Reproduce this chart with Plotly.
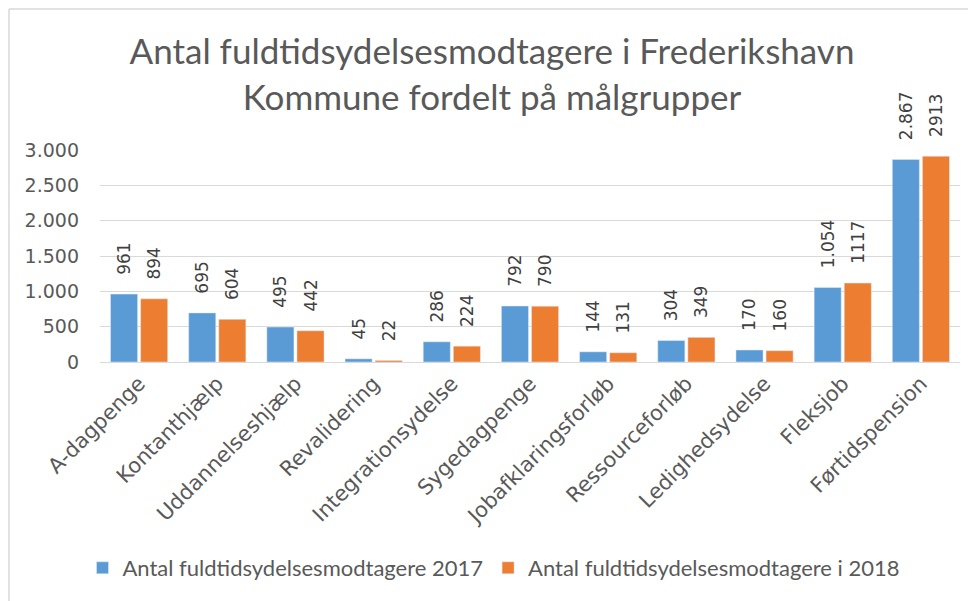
import plotly.graph_objects as go

categories = [
    "A-dagpenge", "Kontanthjælp", "Uddannelseshjælp", "Revalidering",
    "Integrationsydelse", "Sygedagpenge", "Jobafklaringsforløb",
    "Ressourceforløb", "Ledighedsydelse", "Fleksjob", "Førtidspension",
]
values_2017 = [961, 695, 495, 45, 286, 792, 144, 304, 170, 1054, 2867]
values_2018 = [894, 604, 442, 22, 224, 790, 131, 349, 160, 1117, 2913]
labels_2017 = ["961", "695", "495", "45", "286", "792", "144", "304", "170", "1.054", "2.867"]
labels_2018 = ["894", "604", "442", "22", "224", "790", "131", "349", "160", "1117", "2913"]
y_ticks = [0, 500, 1000, 1500, 2000, 2500, 3000]
y_ticktext = ["0", "500", "1.000", "1.500", "2.000", "2.500", "3.000"]

grey = "#595959"
font = "DejaVu Sans, sans-serif"
pad = "\u00a0\u00a0\u00a0"  # gap between bar top and rotated label

fig = go.Figure()

fig.add_trace(go.Bar(
    x=categories,
    y=values_2017,
    name="Antal fuldtidsydelsesmodtagere 2017",
    marker={"color": "#5B9BD5"},
    text=[pad + t for t in labels_2017],
    textposition="outside",
    textangle=-90,
    constraintext="none",
    textfont={"size": 17, "color": "#404040"},
    cliponaxis=False,
))

fig.add_trace(go.Bar(
    x=categories,
    y=values_2018,
    name="Antal fuldtidsydelsesmodtagere i 2018",
    marker={"color": "#ED7D31"},
    text=[pad + t for t in labels_2018],
    textposition="outside",
    textangle=-90,
    constraintext="none",
    textfont={"size": 17, "color": "#404040"},
    cliponaxis=False,
))

# the page puts the figure 8px in from the top-left corner
W, H = 968, 593
L, R, T, B = 92, 16, 142, 239
pw, ph = W - L - R, H - T - B

fig.update_layout(
    width=W,
    height=H,
    paper_bgcolor="white",
    plot_bgcolor="white",
    font={"family": font, "color": grey},
    title={
        "text": "Antal fuldtidsydelsesmodtagere i Frederikshavn<br>Kommune fordelt på målgrupper",
        "x": 0.5,
        "xanchor": "center",
        "y": 1 - 56 / H,
        "yanchor": "middle",
        "font": {"size": 35, "color": grey, "family": "Lato, Open Sans, sans-serif"},
    },
    margin={"l": L, "r": R, "t": T, "b": B, "autoexpand": False},
    barmode="group",
    bargap=0.23,
    bargroupgap=0.1,
    showlegend=True,
    legend={
        "orientation": "h",
        "x": 0.5 - 36 / pw,
        "xanchor": "center",
        "y": (H - B - 560) / ph,
        "yanchor": "middle",
        "font": {"size": 22, "color": grey, "family": "Lato, Open Sans, sans-serif"},
        "itemwidth": 30,
    },
    xaxis=dict(
        tickangle=-45,
        tickfont={"size": 21, "color": grey},
        showline=True,
        linecolor="#D9D9D9",
        linewidth=1,
        ticks="",
    ),
    yaxis=dict(
        range=[0, 3000],
        tickvals=y_ticks,
        ticktext=y_ticktext,
        tickfont={"size": 19, "color": grey},
        gridcolor="#D9D9D9",
        gridwidth=1,
        zeroline=False,
        ticks="",
        ticklabelstandoff=20,
    ),
    shapes=[
        dict(type="line", xref="paper", yref="paper",
             x0=(1 - L) / pw, x1=(W - L) / pw,
             y0=(H - B - 1) / ph, y1=(H - B - 1) / ph,
             line={"color": "#D9D9D9", "width": 1.5}),
        dict(type="line", xref="paper", yref="paper",
             x0=(1 - L) / pw, x1=(1 - L) / pw,
             y0=(H - B - 1) / ph, y1=(H - B - H) / ph,
             line={"color": "#D9D9D9", "width": 1.5}),
    ],
)

fig.write_html("out.html")
